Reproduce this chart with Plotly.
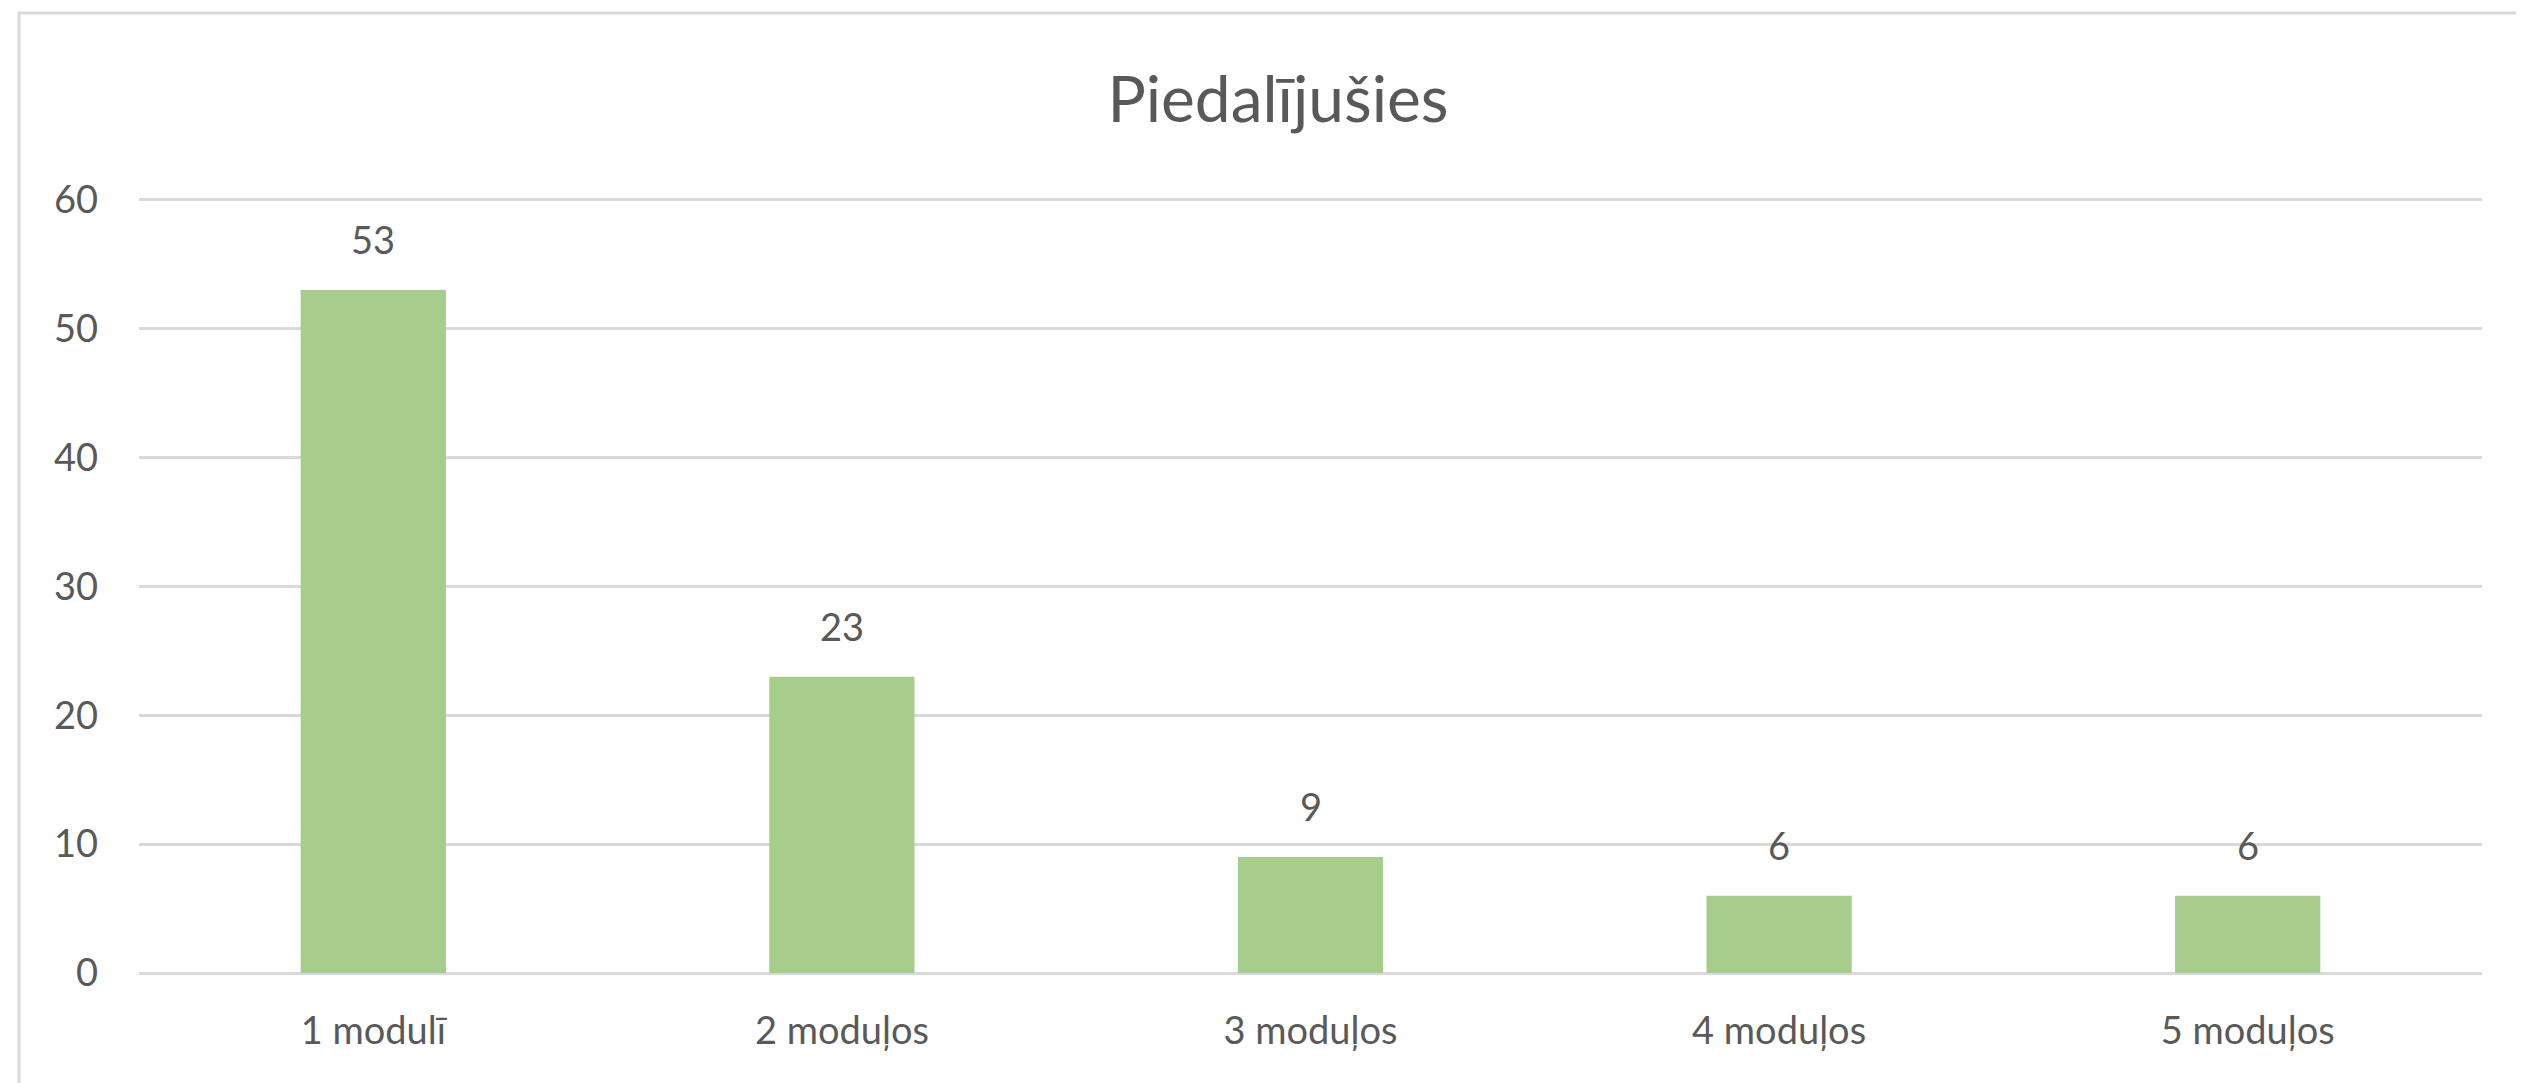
import plotly.graph_objects as go

categories = ["1 modulī", "2 moduļos", "3 moduļos", "4 moduļos", "5 moduļos"]
values = [53, 23, 9, 6, 6]
title_text = "Piedalījušies"
y_ticks = [0, 10, 20, 30, 40, 50, 60]

# page body has an 8px margin, so the figure is sized to fit the window
W, H = 2516, 1075
L, R, T, B = 131, 42, 190, 110
pw, ph = W - L - R, H - T - B

text_color = "#595959"
grid_color = "#d9d9d9"
bar_color = "#A6CD8B"
font_family = "Lato, 'Open Sans', sans-serif"

fig = go.Figure()
fig.add_trace(go.Bar(
    x=categories, y=values, marker=dict(color=bar_color, line=dict(width=0)),
    hoverinfo="x+y",
))

for c, v in zip(categories, values):
    fig.add_annotation(x=c, y=v, text=str(v), showarrow=False, yanchor="bottom",
                       yshift=26, font=dict(size=38, color=text_color, family=font_family))

# chart-area border (extends past the visible image on right/bottom)
fig.add_shape(type="rect", xref="paper", yref="paper",
              x0=(11 - L) / pw, x1=(2545 - L) / pw,
              y0=-(1100 - (H - B)) / ph, y1=((H - B) - 5) / ph,
              line=dict(color=grid_color, width=3), fillcolor="rgba(0,0,0,0)", layer="below")

fig.update_layout(
    width=W, height=H,
    margin=dict(l=L, r=R, t=T, b=B),
    paper_bgcolor="white", plot_bgcolor="white",
    bargap=0.69,
    showlegend=False,
    font=dict(family=font_family, color=text_color, size=38),
    title=dict(text=title_text, x=1270 / W, xref="container", xanchor="center",
               y=1 - 92 / H, yref="container", yanchor="middle",
               font=dict(size=64, color=text_color, family=font_family)),
    xaxis=dict(showgrid=False, showline=False, zeroline=False, ticks="",
               tickfont=dict(size=38, color=text_color), ticklabelstandoff=32),
    yaxis=dict(range=[0, 60.15], tickvals=y_ticks, showgrid=True, gridcolor=grid_color,
               gridwidth=2.5, zeroline=True, zerolinecolor=grid_color, zerolinewidth=3,
               showline=False, ticks="", tickfont=dict(size=38, color=text_color),
               ticklabelstandoff=40),
)

fig.write_html("out.html")
